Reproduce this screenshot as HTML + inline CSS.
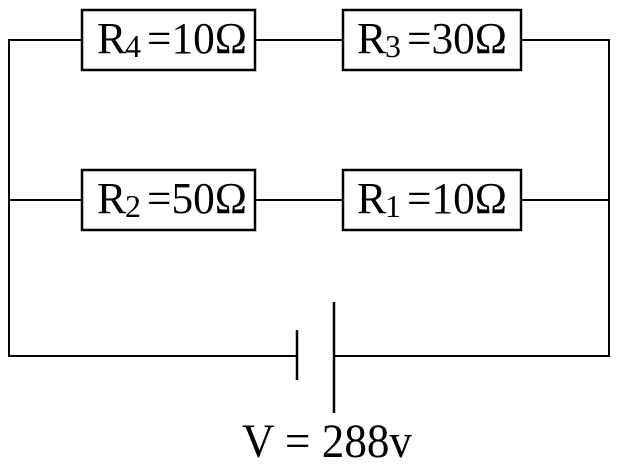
<!DOCTYPE html>
<html><head><style>
body{margin:0;background:#fff;}
svg{display:block;}
text{font-family:"Liberation Serif",serif;fill:#000;}
</style></head><body>
<svg width="619" height="468" viewBox="0 0 619 468">
<g stroke="#000" stroke-width="2" fill="none">
<polyline points="82,40 9,40 9,356 297,356"/>
<line x1="255" y1="40" x2="343" y2="40"/>
<polyline points="521,40 609,40 609,356 334,356"/>
<line x1="9" y1="200" x2="82" y2="200"/>
<line x1="255" y1="200" x2="343" y2="200"/>
<line x1="521" y1="200" x2="609" y2="200"/>
<rect x="82" y="10" width="173" height="60" stroke-width="2.5"/>
<rect x="343" y="10" width="178" height="60" stroke-width="2.5"/>
<rect x="82" y="170" width="173" height="60" stroke-width="2.5"/>
<rect x="343" y="170" width="178" height="60" stroke-width="2.5"/>
<line x1="297" y1="330" x2="297" y2="380" stroke-width="2.5"/>
<line x1="334" y1="302" x2="334" y2="413" stroke-width="2.5"/>
</g>
<g font-size="44">
<text x="97" y="53">R</text><text x="125" y="57" font-size="32">4</text><text x="147" y="53" textLength="100" lengthAdjust="spacingAndGlyphs">=10Ω</text>
<text x="357" y="53">R</text><text x="385" y="57" font-size="32">3</text><text x="407" y="53" textLength="100" lengthAdjust="spacingAndGlyphs">=30Ω</text>
<text x="97" y="213">R</text><text x="125" y="217" font-size="32">2</text><text x="147" y="213" textLength="100" lengthAdjust="spacingAndGlyphs">=50Ω</text>
<text x="357" y="213">R</text><text x="385" y="217" font-size="32">1</text><text x="407" y="213" textLength="100" lengthAdjust="spacingAndGlyphs">=10Ω</text>
</g>
<text x="242" y="457" font-size="48" textLength="170" lengthAdjust="spacingAndGlyphs">V = 288v</text>
</svg>
</body></html>
